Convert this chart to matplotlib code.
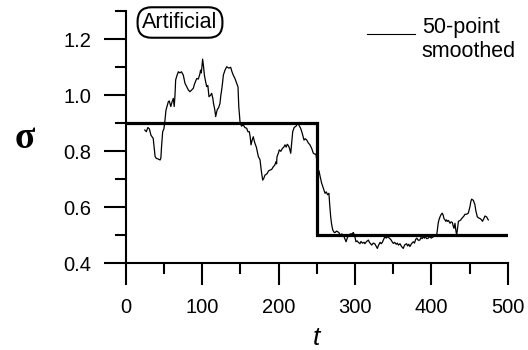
import matplotlib
matplotlib.use("Agg")
import matplotlib.pyplot as plt
from matplotlib.lines import Line2D
from matplotlib.ticker import MultipleLocator

plt.rcParams['font.family'] = ['Liberation Sans', 'DejaVu Sans']

# Step function (true sigma)
step_t = [0, 250, 250, 500]
step_sigma = [0.9, 0.9, 0.5, 0.5]

# 50-point smoothed estimate
t = [25, 27, 29, 31, 33, 35, 36, 37, 38.5, 40, 43, 45, 46, 47, 48.4, 50, 51, 52.7, 54, 55.8,
     57, 58, 59, 60.5, 62.3, 63.5, 64.5, 65.4, 67, 68.9, 71, 73, 75.4, 77.6, 79, 80, 82, 84, 86, 88.5,
     90, 93, 95, 96, 97, 98, 99, 100.7, 102, 103, 104.5, 106, 107.5, 109, 111, 112.5, 114, 115, 116.5, 117.8,
     119, 120, 121.5, 123.4, 124.5, 125.6, 127, 127.8, 130, 132.2, 135, 137.4, 139, 140.8, 143, 145.3, 147, 148, 149.6, 151.5,
     154, 156, 158.4, 160, 161.8, 163, 164, 165.5, 167, 168, 169, 171, 173.6, 175.8, 177.5, 179.3, 181, 182.3, 185, 187,
     188.9, 191, 193.2, 195, 196.7, 197.5, 198, 200, 201, 203, 205, 207, 208.5, 210, 211.5, 213, 214.5, 216, 217.5, 218.6,
     220.5, 223, 225.5, 227, 229, 231, 233.4, 235, 237, 239, 241.2, 243.5, 245.6, 247.5, 249, 250.5, 252, 253, 254.5, 256.5,
     258.5, 260.9, 262.5, 264.2, 266, 267, 268.3, 269.5, 271, 273, 274, 276, 279, 281, 283, 285, 286.5, 288.4, 290, 291.5,
     294, 296, 298, 299.5, 301.4, 303, 304.5, 306.6, 308, 310, 312, 313, 315, 317.6, 319, 320.5, 322, 324, 326, 328,
     329.4, 331, 333, 334.5, 336, 337.5, 339.4, 341, 343, 345, 347, 348.5, 350.3, 352, 354, 355.5, 357, 359, 361, 363.3,
     365, 367.6, 369, 370.5, 372, 374, 376.5, 378, 379.5, 381, 383, 385, 386.5, 388, 389.5, 391, 392.5, 394, 396, 398,
     400, 402.6, 405, 407, 408, 409, 410, 411.4, 413, 414.4, 415.5, 416.6, 418, 419, 420, 421, 422.5, 424.5, 426, 427.5,
     428.5, 429.7, 431, 432, 433.2, 434.5, 435.5, 437, 438.5, 439.8, 441.5, 443, 444, 446, 448.4, 449.5, 450.6, 451.7, 452.8, 454,
     455, 456, 457, 458.5, 460.2, 462, 463.7, 465.5, 467, 468.5, 470.3, 471.5, 472.6, 473.5, 474.6]
sigma = [0.876, 0.87, 0.885, 0.88, 0.858, 0.85, 0.846, 0.82, 0.781, 0.775, 0.772, 0.769, 0.775, 0.82, 0.87, 0.88, 0.9, 0.947, 0.96, 0.977,
         0.98, 0.97, 0.96, 0.975, 0.989, 0.96, 1.0, 1.055, 1.07, 1.084, 1.08, 1.084, 1.072, 1.043, 1.035, 1.03, 1.019, 1.013, 1.018, 1.025,
         1.04, 1.06, 1.058, 1.066, 1.075, 1.09, 1.08, 1.129, 1.1, 1.072, 1.05, 1.031, 1.035, 0.995, 1.0, 1.007, 0.99, 0.97, 0.95, 0.924,
         0.94, 0.95, 0.955, 0.971, 1.0, 1.019, 1.05, 1.072, 1.09, 1.102, 1.097, 1.1, 1.085, 1.072, 1.06, 1.043, 1.03, 0.96, 0.906, 0.89,
         0.894, 0.885, 0.882, 0.87, 0.87, 0.85, 0.823, 0.84, 0.852, 0.84, 0.83, 0.815, 0.781, 0.77, 0.73, 0.697, 0.705, 0.715, 0.72, 0.73,
         0.733, 0.735, 0.745, 0.75, 0.763, 0.755, 0.78, 0.795, 0.805, 0.8, 0.81, 0.815, 0.823, 0.815, 0.825, 0.82, 0.81, 0.793, 0.84, 0.87,
         0.885, 0.89, 0.9, 0.892, 0.882, 0.865, 0.84, 0.845, 0.84, 0.83, 0.823, 0.81, 0.793, 0.79, 0.79, 0.76, 0.733, 0.73, 0.71, 0.686,
         0.67, 0.65, 0.655, 0.645, 0.65, 0.61, 0.566, 0.54, 0.519, 0.51, 0.51, 0.515, 0.51, 0.5, 0.505, 0.5, 0.49, 0.477, 0.49, 0.5,
         0.505, 0.505, 0.51, 0.5, 0.477, 0.48, 0.475, 0.47, 0.478, 0.472, 0.475, 0.47, 0.477, 0.483, 0.475, 0.47, 0.465, 0.472, 0.47, 0.46,
         0.453, 0.465, 0.475, 0.47, 0.475, 0.485, 0.495, 0.49, 0.495, 0.49, 0.485, 0.478, 0.471, 0.475, 0.468, 0.472, 0.465, 0.47, 0.46, 0.453,
         0.465, 0.47, 0.462, 0.468, 0.46, 0.47, 0.477, 0.472, 0.485, 0.49, 0.482, 0.483, 0.492, 0.488, 0.495, 0.49, 0.495, 0.488, 0.49, 0.495,
         0.49, 0.495, 0.498, 0.5, 0.52, 0.543, 0.555, 0.566, 0.575, 0.579, 0.572, 0.56, 0.555, 0.55, 0.555, 0.55, 0.553, 0.543, 0.548, 0.546,
         0.535, 0.525, 0.543, 0.52, 0.5, 0.53, 0.55, 0.552, 0.555, 0.56, 0.565, 0.57, 0.575, 0.575, 0.579, 0.59, 0.602, 0.62, 0.629, 0.627,
         0.625, 0.618, 0.61, 0.585, 0.566, 0.562, 0.56, 0.556, 0.55, 0.558, 0.569, 0.567, 0.565, 0.56, 0.555]

x_ticks = [0, 100, 200, 300, 400, 500]
y_ticks = [0.4, 0.6, 0.8, 1.0, 1.2]
y_tick_labels = ['0.4', '0.6', '0.8', '1.0', '1.2']

W, H = 528, 350
fig = plt.figure(figsize=(W / 100, H / 100), dpi=100)
ax = fig.add_axes([125.7 / W, 1 - 263.3 / H, (507.7 - 125.7) / W, (263.3 - 11.3) / H])

ax.plot(t, sigma, color='black', lw=0.9)
ax.plot(step_t, step_sigma, color='black', lw=2.3, solid_joinstyle='miter')

ax.set_xlim(0, 500)
ax.set_ylim(0.4, 1.3)
for s in ['top', 'right']:
    ax.spines[s].set_visible(False)
for s in ['left', 'bottom']:
    ax.spines[s].set_linewidth(1.5)

ax.set_xticks(x_ticks)
ax.set_xticklabels([str(v) for v in x_ticks])
ax.set_yticks(y_ticks)
ax.set_yticklabels(y_tick_labels)
ax.xaxis.set_minor_locator(MultipleLocator(50))
ax.yaxis.set_minor_locator(MultipleLocator(0.1))
ax.tick_params(which='major', direction='out', length=15.8, width=1.5, labelsize=14.5, pad=9)
ax.tick_params(which='minor', direction='out', length=7.9, width=1.5)
ax.patch.set_alpha(0)

# Axis labels
fig.text(25 / W, 1 - 148 / H, 'σ', family=['Liberation Serif', 'DejaVu Serif'], fontsize=27,
         fontweight='bold', ha='center', va='baseline')
fig.text(316.5 / W, 1 - 345 / H, 't', fontsize=19, style='italic', ha='center', va='baseline')

# Panel label
fig.text(180 / W, 1 - 22.5 / H, 'Artificial', fontsize=15.5, ha='center', va='center',
         bbox=dict(boxstyle='round,pad=0.22,rounding_size=0.65', fc='white', ec='black', lw=1.5))

# Legend
fig.add_artist(Line2D([366.7 / W, 415 / W], [1 - 34.3 / H, 1 - 34.3 / H], color='black', lw=0.8))
fig.text(421.7 / W, 1 - 33.3 / H, '50-point', fontsize=15.5, ha='left', va='baseline')
fig.text(421.7 / W, 1 - 56.7 / H, 'smoothed', fontsize=15.5, ha='left', va='baseline')

fig.savefig('out.png', dpi=100)
